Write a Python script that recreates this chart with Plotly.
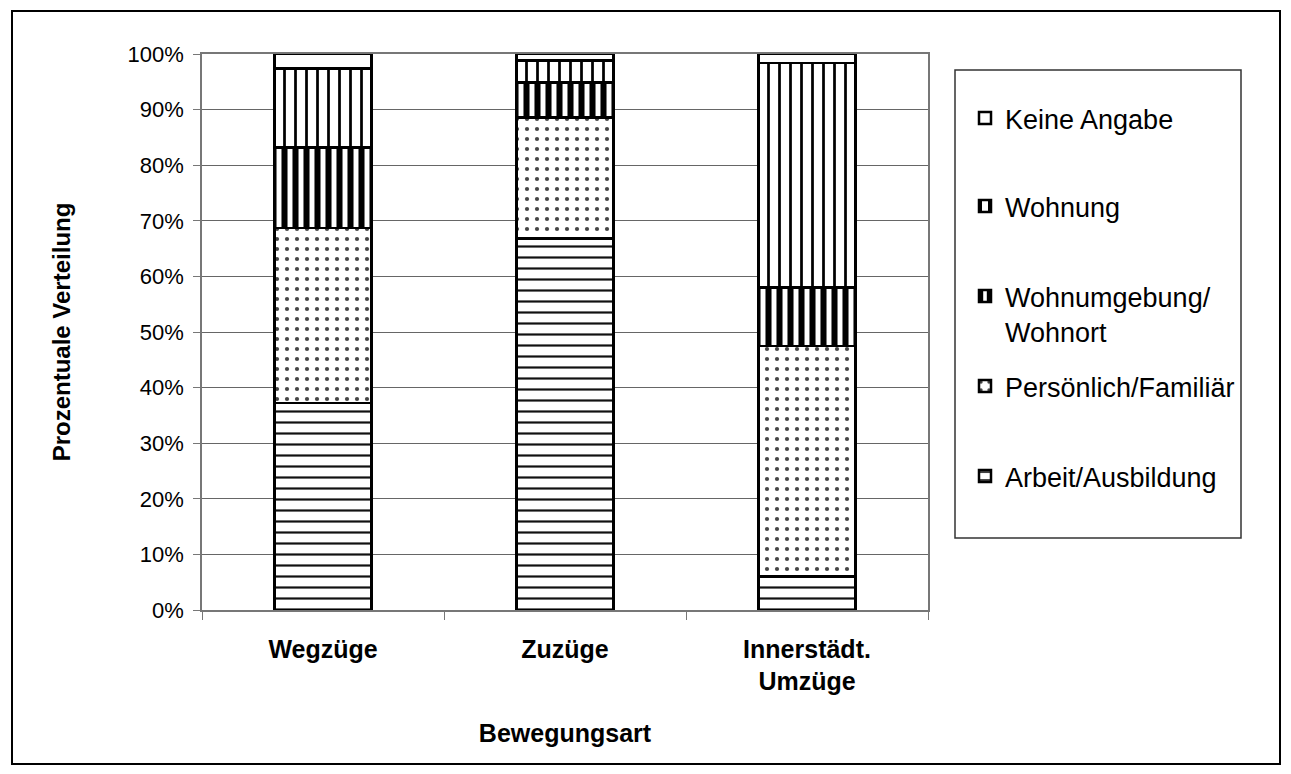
import plotly.graph_objects as go

categories = ["Wegzüge", "Zuzüge", "Innerstädt.<br>Umzüge"]
series_names = ["Arbeit/Ausbildung", "Persönlich/Familiär", "Wohnumgebung/<br>Wohnort", "Wohnung", "Keine Angabe"]
arbeit = [37.2, 66.8, 6.0]
persoenlich = [31.5, 21.8, 41.5]
wohnumgebung = [14.5, 6.3, 10.5]
wohnung = [14.2, 3.9, 40.4]
keine_angabe = [2.6, 1.2, 1.6]
y_ticks = [0, 10, 20, 30, 40, 50, 60, 70, 80, 90, 100]
y_ticklabels = [f"{v}%" for v in y_ticks]

FONT = "Arial, Liberation Sans, sans-serif"

# plot area in pixels
L, R, T, B = 202, 928, 54, 610
W, H = 1291, 774
PW, PH = R - L, B - T

def px(x):
    return (x - L) / PW

def py(y):
    return (B - y) / PH

values = [arbeit, persoenlich, wohnumgebung, wohnung, keine_angabe]
patterns = [
    dict(shape="-", size=11, solidity=0.2, fgcolor="#111", bgcolor="white", fillmode="replace"),
    dict(shape=".", size=10, solidity=0.14, fgcolor="#444", bgcolor="white", fillmode="replace"),
    dict(shape="|", size=11, solidity=0.55, fgcolor="black", bgcolor="white", fillmode="replace"),
    dict(shape="|", size=11, solidity=0.25, fgcolor="black", bgcolor="white", fillmode="replace"),
    dict(shape="", bgcolor="white"),
]
legend_ids = ["legend5", "legend4", "legend3", "legend2", "legend"]
# legend item centre y (pixels)
legend_centres = [478, 388, 298, 208, 120]

fig = go.Figure()
for name, vals, pat, lg in zip(series_names, values, patterns, legend_ids):
    fig.add_trace(go.Bar(
        x=categories, y=vals, name=name, legend=lg,
        marker=dict(color="white", pattern=pat, line=dict(color="black", width=2.5)),
        width=0.4,
    ))

legend_layout = {}
for lg, cy in zip(legend_ids, legend_centres):
    legend_layout[lg] = dict(
        x=px(965), y=py(cy - 26), xanchor="left", yanchor="top",
        font=dict(family=FONT, size=27, color="black"),
        bgcolor="rgba(0,0,0,0)", borderwidth=0, valign="top",
        itemclick=False, itemdoubleclick=False,
    )

fig.update_layout(
    width=W, height=H,
    margin=dict(l=L, r=W - R, t=T, b=H - B, autoexpand=False),
    paper_bgcolor="white", plot_bgcolor="white",
    barmode="stack", bargap=0.6,
    showlegend=True,
    font=dict(family=FONT, color="black"),
    **legend_layout,
    shapes=[
        dict(type="rect", xref="paper", yref="paper",
             x0=px(12), x1=px(1280), y0=py(764), y1=py(11),
             line=dict(color="black", width=2), fillcolor="rgba(0,0,0,0)", layer="below"),
        dict(type="rect", xref="paper", yref="paper",
             x0=px(955), x1=px(1241), y0=py(538), y1=py(70),
             line=dict(color="#333", width=1.5), fillcolor="rgba(0,0,0,0)"),
    ],
)

fig.update_xaxes(
    type="category", tickson="boundaries", ticks="outside", ticklen=8, tickcolor="#777",
    showline=True, linecolor="#777", linewidth=1.5, mirror=True,
    tickfont=dict(family=FONT, size=25, color="black", weight="bold"),
    ticklabelstandoff=16,
    title=dict(text="<b>Bewegungsart</b>", font=dict(family=FONT, size=25, color="black"), standoff=30),
    showgrid=False,
)
fig.update_yaxes(
    range=[0, 100], tickmode="array", tickvals=y_ticks, ticktext=y_ticklabels,
    ticks="outside", ticklen=7, tickcolor="#777",
    showline=True, linecolor="#777", linewidth=1.5, mirror=True,
    showgrid=True, gridcolor="#666", gridwidth=1,
    tickfont=dict(family=FONT, size=22, color="black"),
    ticklabelstandoff=5,
    title=dict(text="<b>Prozentuale Verteilung</b>", font=dict(family=FONT, size=24, color="black"), standoff=50),
    zeroline=False,
)

fig.write_html("out.html", config={"displayModeBar": False},
               post_script="document.body.style.margin='0';")
